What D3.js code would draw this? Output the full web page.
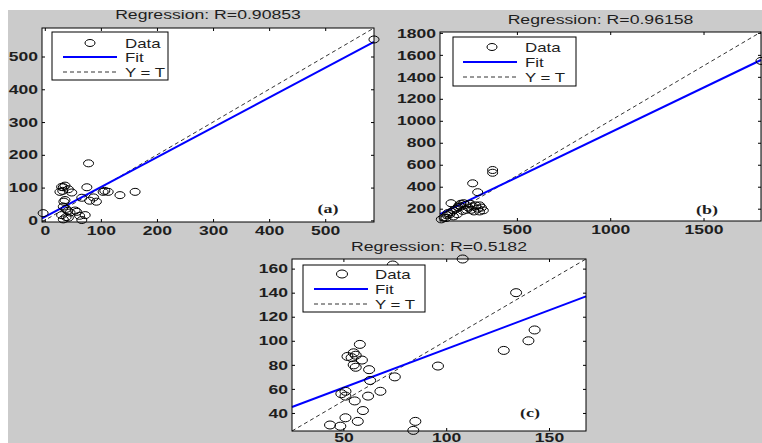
<!DOCTYPE html>
<html>
<head>
<meta charset="utf-8">
<script src="https://cdn.jsdelivr.net/npm/d3@7"></script>
<style>
	body { margin: 0; background: #fff; }
	svg { display: block; }
	text { font-family: Arial, "Liberation Sans", sans-serif; fill: #1e1e1e; }
</style>
</head>
<body>
<div id="chart"></div>
<script>
// values
var titles = ["Regression: R=0.90853", "Regression: R=0.96158", "Regression: R=0.5182"];
var tags = ["(a)", "(b)", "(c)"];
var legendLabels = ["Data", "Fit", "Y = T"];
var limits = [[-5, 587], [88, 1808], [25, 168]];
var xTicks = [[0, 100, 200, 300, 400, 500], [500, 1000, 1500], [50, 100, 150]];
var yTicks = [[0, 100, 200, 300, 400, 500], [200, 400, 600, 800, 1000, 1200, 1400, 1600, 1800], [40, 60, 80, 100, 120, 140, 160]];
var fitSlope = [0.91, 0.816, 0.643];
var fitIntercept = [10.5, 78, 28.9];

var targetsA = [-3, 30, 33, 36, 42, 27, 32, 48, 75, 78, 36, 34, 66, 87, 80, 92, 104, 107, 113, 134, 161, 33, 38, 41, 45, 30, 42, 57, 54, 62, 72, 66, 33, 38, 587];
var outputsA = [22, 102, 101, 106, 95, 87, 90, 85, 101, 174, 62, 57, 69, 70, 60, 57, 87, 90, 87, 77, 87, 42, 35, 29, 24, 16, 8, 26, 30, 14, 16, 1, 3, 10, 552];

var targetsB = [1808, 370, 370, 263, 290, 147, 95, 110, 125, 140, 150, 130, 160, 175, 190, 200, 215, 225, 240, 255, 265, 280, 290, 300, 310, 320, 230, 210, 180, 160, 200, 250, 270, 300, 120, 185];
var outputsB = [1545, 552, 527, 431, 350, 250, 103, 120, 140, 150, 170, 160, 185, 200, 230, 245, 250, 235, 210, 190, 220, 230, 200, 175, 210, 185, 190, 180, 150, 130, 220, 245, 175, 230, 115, 215];

var targetsC = [74, 108, 134, 143, 140, 128, 96, 75, 58, 52, 54, 56, 55, 59, 55, 56, 62.5, 63, 68, 62, 49, 51, 51, 55.5, 59.5, 51, 57, 43.5, 48.5, 85, 84];
var outputsC = [163, 168, 140, 109, 100, 92, 79, 70, 97, 87, 86, 88, 90, 84, 80, 78, 76, 67, 58, 54, 56, 58, 54, 50, 42, 36, 33, 30, 29, 33, 25.5];

var targets = [targetsA, targetsB, targetsC];
var outputs = [outputsA, outputsB, outputsC];

// layout of the three axes boxes
var boxes = [
	{ x0: 42, x1: 374, y0: 28, y1: 222, rx: 5, ry: 3.5, tagX: 328, tagY: 213, titleY: 19, pad: 4,
	  legend: { x: 52, y: 32, w: 116, h: 48, mark: 90, l0: 63, l1: 117, tx: 125, rows: [43, 57, 72] } },
	{ x0: 440, x1: 761, y0: 32, y1: 221, rx: 5, ry: 3.5, tagX: 707, tagY: 214, titleY: 24, pad: 4,
	  legend: { x: 453, y: 37, w: 123, h: 49, mark: 492, l0: 463, l1: 517, tx: 525, rows: [47, 62, 77] } },
	{ x0: 292, x1: 586, y0: 259, y1: 431, rx: 5.5, ry: 4, tagX: 530, tagY: 417, titleY: 251, pad: 1.5,
	  legend: { x: 303, y: 265, w: 122, h: 47, mark: 342, l0: 314, l1: 368, tx: 375, rows: [274, 289, 304] } }
];

var width = 762;
var height = 443;
var sx = 1.35; // the source figure is stretched sideways
var fmt = d3.format("d");

var svg = d3.select("#chart").append("svg")
	.attr("width", width)
	.attr("height", height);

svg.append("rect").attr("width", width).attr("height", height).attr("fill", "#fff");
svg.append("rect").attr("x", 8).attr("y", 10).attr("width", width - 8).attr("height", height - 10).attr("fill", "#cbcbcb");

boxes.forEach(function (b, i) {
	var x = d3.scaleLinear().domain(limits[i]).range([b.x0, b.x1]);
	var y = d3.scaleLinear().domain(limits[i]).range([b.y1, b.y0]);
	var g = svg.append("g");

	g.append("rect")
		.attr("x", b.x0).attr("y", b.y0)
		.attr("width", b.x1 - b.x0).attr("height", b.y1 - b.y0)
		.attr("fill", "#fff");

	// ticks on all four sides, pointing in
	var bottom = g.append("g").attr("transform", "translate(0," + b.y1 + ")")
		.call(d3.axisBottom(x).tickValues(xTicks[i]).tickFormat(fmt).tickSize(-3).tickPadding(b.pad));
	var left = g.append("g").attr("transform", "translate(" + b.x0 + ",0)")
		.call(d3.axisLeft(y).tickValues(yTicks[i]).tickFormat(fmt).tickSize(-3).tickPadding(4));
	g.append("g").attr("transform", "translate(0," + b.y0 + ")")
		.call(d3.axisTop(x).tickValues(xTicks[i]).tickSize(-3).tickFormat(""));
	g.append("g").attr("transform", "translate(" + b.x1 + ",0)")
		.call(d3.axisRight(y).tickValues(yTicks[i]).tickSize(-3).tickFormat(""));

	g.selectAll(".domain").remove();
	g.selectAll(".tick line").attr("stroke", "#000");
	bottom.selectAll("text")
		.attr("font-size", 13).attr("font-weight", "bold").attr("fill", "#1e1e1e")
		.attr("font-family", "Arial, 'Liberation Sans', sans-serif")
		.attr("transform", "scale(" + sx + ",1)");
	left.selectAll("text")
		.attr("font-size", 13).attr("font-weight", "bold").attr("fill", "#1e1e1e")
		.attr("font-family", "Arial, 'Liberation Sans', sans-serif")
		.attr("x", -4 / sx)
		.attr("transform", "scale(" + sx + ",1)");

	// Y = T
	g.append("line")
		.attr("x1", x(limits[i][0])).attr("y1", y(limits[i][0]))
		.attr("x2", x(limits[i][1])).attr("y2", y(limits[i][1]))
		.attr("stroke", "#333").attr("stroke-width", 1).attr("stroke-dasharray", "4,3");

	// fit
	var fy = function (t) { return fitSlope[i] * t + fitIntercept[i]; };
	g.append("line")
		.attr("x1", x(limits[i][0])).attr("y1", y(fy(limits[i][0])))
		.attr("x2", x(limits[i][1])).attr("y2", y(fy(limits[i][1])))
		.attr("stroke", "#0000ff").attr("stroke-width", 2);

	// data
	g.selectAll("ellipse.pt")
		.data(d3.zip(targets[i], outputs[i]))
		.enter()
		.append("ellipse")
		.attr("class", "pt")
		.attr("cx", function (d) { return x(d[0]); })
		.attr("cy", function (d) { return y(d[1]); })
		.attr("rx", b.rx).attr("ry", b.ry)
		.attr("fill", "none").attr("stroke", "#000").attr("stroke-width", 1);

	g.append("rect")
		.attr("x", b.x0).attr("y", b.y0)
		.attr("width", b.x1 - b.x0).attr("height", b.y1 - b.y0)
		.attr("fill", "none").attr("stroke", "#000");

	// title
	g.append("text")
		.attr("transform", "translate(" + (b.x0 + b.x1) / 2 + "," + b.titleY + ") scale(1.47,1)")
		.attr("text-anchor", "middle")
		.attr("font-size", 12)
		.text(titles[i]);

	// panel tag
	g.append("text")
		.attr("transform", "translate(" + b.tagX + "," + b.tagY + ") scale(1.5,1)")
		.attr("text-anchor", "middle")
		.attr("font-size", 12).attr("font-weight", "bold")
		.style("font-family", "'Liberation Serif', 'Times New Roman', serif")
		.text(tags[i]);

	// legend
	var L = b.legend;
	var lg = g.append("g");
	lg.append("rect")
		.attr("x", L.x).attr("y", L.y).attr("width", L.w).attr("height", L.h)
		.attr("fill", "#fff").attr("stroke", "#000");
	lg.append("ellipse")
		.attr("cx", L.mark).attr("cy", L.rows[0]).attr("rx", b.rx).attr("ry", b.ry)
		.attr("fill", "none").attr("stroke", "#000");
	lg.append("line")
		.attr("x1", L.l0).attr("x2", L.l1).attr("y1", L.rows[1]).attr("y2", L.rows[1])
		.attr("stroke", "#0000ff").attr("stroke-width", 2);
	lg.append("line")
		.attr("x1", L.l0).attr("x2", L.l1).attr("y1", L.rows[2]).attr("y2", L.rows[2])
		.attr("stroke", "#333").attr("stroke-dasharray", "4,3");
	lg.selectAll("text.lab")
		.data(legendLabels)
		.enter()
		.append("text")
		.attr("class", "lab")
		.attr("transform", function (d, k) { return "translate(" + L.tx + "," + (L.rows[k] + 4.5) + ") scale(1.35,1)"; })
		.attr("font-size", 12.5)
		.text(function (d) { return d; });
});
</script>
</body>
</html>
